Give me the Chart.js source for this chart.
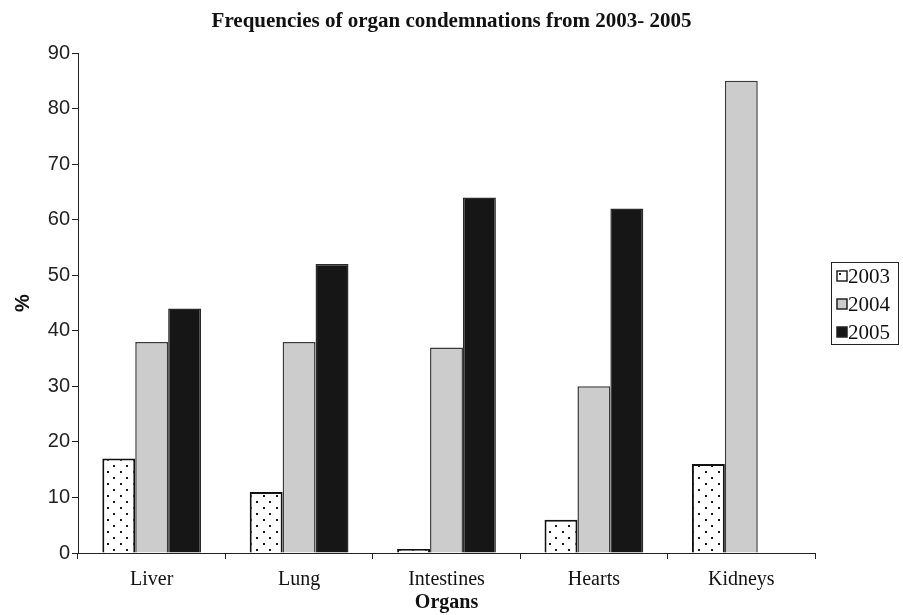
<!DOCTYPE html>
<html>
<head>
<meta charset="utf-8">
<script src="https://cdn.jsdelivr.net/npm/chart.js@4/dist/chart.umd.min.js"></script>
<style>
  html, body { margin: 0; padding: 0; background: #fff; }
  #wrap { width: 903px; height: 615px; }
</style>
</head>
<body>
<div id="wrap"><canvas id="myChart" width="903" height="615"></canvas></div>
<script>
var chartTitle = 'Frequencies of organ condemnations from 2003- 2005';
var organs = ['Liver', 'Lung', 'Intestines', 'Hearts', 'Kidneys'];
var years = ['2003', '2004', '2005'];
var values2003 = [17, 11, 0.7, 6, 16];
var values2004 = [38, 38, 37, 30, 85];
var values2005 = [44, 52, 64, 62, 0];
var yTicks = [0, 10, 20, 30, 40, 50, 60, 70, 80, 90];

// dotted fill for 2003
function dotPattern() {
  var c = document.createElement('canvas');
  c.width = 13;
  c.height = 12;
  var g = c.getContext('2d');
  g.fillStyle = '#ffffff';
  g.fillRect(0, 0, 13, 12);
  g.fillStyle = '#1a1a1a';
  g.fillRect(3, 3, 2, 2);
  g.fillRect(9, 9, 2, 2);
  return document.getElementById('myChart').getContext('2d').createPattern(c, 'repeat');
}

var dots = dotPattern();
var fills = [dots, '#cbcccb', '#161616'];
var borders = ['#111111', '#3a3a3a', '#2a2a2a'];

// title centred on the whole page and legend with its frame, drawn by hand
var boxLegend = {
  id: 'boxLegend',
  afterDraw: function(chart) {
    var ctx = chart.ctx;
    ctx.save();
    ctx.fillStyle = '#111';
    ctx.font = 'bold 21px "Liberation Serif", serif';
    ctx.textAlign = 'center';
    ctx.textBaseline = 'alphabetic';
    ctx.fillText(chartTitle, chart.width / 2, 27);

    var x = 831, y = 262, w = 67, h = 82;
    ctx.textAlign = 'left';
    ctx.strokeStyle = '#222';
    ctx.lineWidth = 1;
    ctx.strokeRect(x + 0.5, y + 0.5, w, h);
    ctx.font = '21px "Liberation Serif", serif';
    ctx.textBaseline = 'middle';
    for (var i = 0; i < years.length; i++) {
      var cy = y + 14 + i * 28;
      ctx.fillStyle = i === 0 ? '#ffffff' : fills[i];
      ctx.fillRect(x + 6, cy - 5, 10, 10);
      if (i === 0) {
        ctx.fillStyle = '#222';
        ctx.fillRect(x + 8, cy - 3, 2, 2);
      }
      ctx.strokeStyle = '#222';
      ctx.lineWidth = 1.5;
      ctx.strokeRect(x + 6, cy - 5, 10, 10);
      ctx.fillStyle = '#111';
      ctx.fillText(years[i], x + 17, cy + 1);
    }
    ctx.restore();
  }
};

var chart = new Chart(document.getElementById('myChart'), {
  type: 'bar',
  data: {
    labels: organs,
    datasets: [
      { label: years[0], data: values2003, backgroundColor: fills[0], borderColor: borders[0], borderWidth: 2 },
      { label: years[1], data: values2004, backgroundColor: fills[1], borderColor: borders[1], borderWidth: 1.5 },
      { label: years[2], data: values2005, backgroundColor: fills[2], borderColor: borders[2], borderWidth: 1.5 }
    ]
  },
  options: {
    responsive: false,
    animation: false,
    events: [],
    layout: {
      padding: { left: 0, right: 88, top: 53, bottom: 0 }
    },
    datasets: {
      bar: {
        categoryPercentage: 0.67,
        barPercentage: 1.0
      }
    },
    plugins: {
      legend: { display: false },
      tooltip: { enabled: false },
      title: { display: false }
    },
    scales: {
      x: {
        type: 'category',
        afterFit: function(axis) { axis.height = 62; },
        grid: {
          display: true,
          offset: true,
          drawOnChartArea: false,
          drawTicks: true,
          tickLength: 6,
          color: '#222'
        },
        border: { display: true, color: '#222', width: 1 },
        ticks: {
          color: '#111',
          padding: 9,
          font: { family: '"Liberation Serif", serif', size: 20 }
        },
        title: {
          display: true,
          text: 'Organs',
          color: '#111',
          padding: { top: 0, bottom: 0 },
          font: { family: '"Liberation Serif", serif', size: 20, weight: 'bold' }
        }
      },
      y: {
        min: 0,
        max: 90,
        afterFit: function(axis) { axis.width = 78; },
        afterBuildTicks: function(axis) {
          axis.ticks = yTicks.map(function(v) { return { value: v }; });
        },
        grid: {
          display: true,
          drawOnChartArea: false,
          drawTicks: true,
          tickLength: 6,
          color: '#222'
        },
        border: { display: true, color: '#222', width: 1 },
        ticks: {
          color: '#222',
          padding: 2,
          font: { family: '"Liberation Sans", Arial, sans-serif', size: 20 }
        },
        title: {
          display: true,
          text: '%',
          color: '#111',
          padding: { top: 11, bottom: 8 },
          font: { family: '"Liberation Sans", Arial, sans-serif', size: 20, weight: 'bold' }
        }
      }
    }
  },
  plugins: [boxLegend]
});
</script>
</body>
</html>
